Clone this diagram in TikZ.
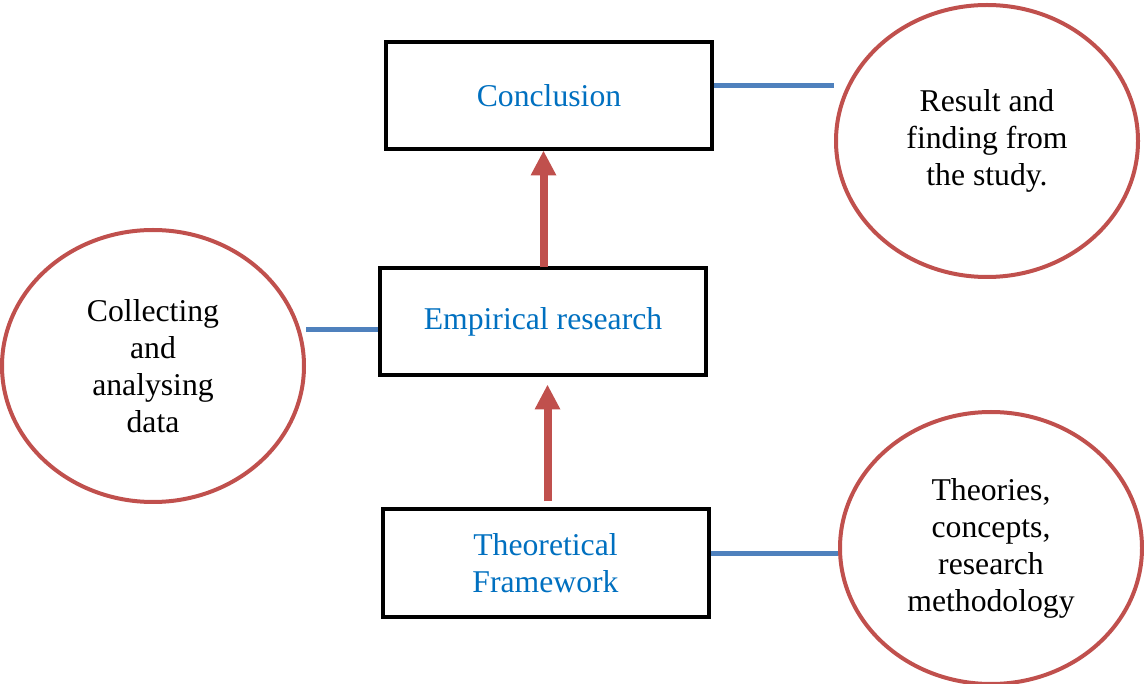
\documentclass[tikz,border=0pt]{standalone}
\usepackage{fontspec}
\setmainfont{LiberationSerif}[Extension=.ttf, UprightFont=*-Regular, BoldFont=*-Bold, ItalicFont=*-Italic]
\usetikzlibrary{shapes.geometric,arrows.meta}
\definecolor{boxtext}{HTML}{0070C0}
\definecolor{ovalred}{HTML}{C0504D}
\definecolor{linkblue}{HTML}{4F81BD}
\tikzset{
  stagebox/.style={draw=black, line width=4pt, rectangle, fill=white,
    minimum width=326pt, minimum height=107pt, inner sep=0pt,
    text=boxtext, align=center, font=\fontsize{31.7}{37}\selectfont},
  noteoval/.style={draw=ovalred, line width=4pt, ellipse, fill=white,
    minimum width=302pt, minimum height=272pt, inner sep=0pt,
    text=black, align=center, font=\fontsize{31.7}{37}\selectfont},
  link/.style={draw=linkblue, line width=5pt},
  flow/.style={draw=ovalred, line width=8pt,
    -{Triangle[width=24pt,length=25pt]}},
}
\begin{document}
\begin{tikzpicture}[x=1pt,y=-1pt]
  \useasboundingbox (0,0) rectangle (1144,684);
  % stage boxes
  \node[stagebox] (conc) at (549,96) {\raisebox{-2pt}{Conclusion}};
  \node[stagebox] (emp) at (543,322) {\raisebox{-2pt}{Empirical research}};
  \node[stagebox] (theo) at (545.5,563) {Theoretical\\Framework};
  % explanatory ovals
  \node[noteoval] (res) at (987,141) {Result and\\finding from\\the study.};
  \node[noteoval] (coll) at (153,366) {Collecting\\and\\analysing\\data};
  \node[noteoval] (meth) at (991,548) {Theories,\\concepts,\\research\\methodology};
  % blue links between boxes and ovals
  \coordinate (l1) at ([yshift=10pt]conc.east);
  \draw[link] (l1) -- (res.west |- l1);
  \coordinate (l2) at ([yshift=-8pt]emp.west);
  \draw[link] (coll.east |- l2) -- (l2);
  \coordinate (l3) at ([yshift=10pt]theo.east);
  \draw[link] (l3) -- (meth.west |- l3);
  % red flow arrows
  \coordinate (a1) at ([xshift=0.5pt]emp.north);
  \draw[flow, shorten <=-1pt, shorten >=-1pt] (a1) -- (a1 |- conc.south);
  \coordinate (a2) at ([xshift=2pt]theo.north);
  \draw[flow, shorten <=6pt, shorten >=7pt] (a2) -- (a2 |- emp.south);
\end{tikzpicture}
\end{document}
